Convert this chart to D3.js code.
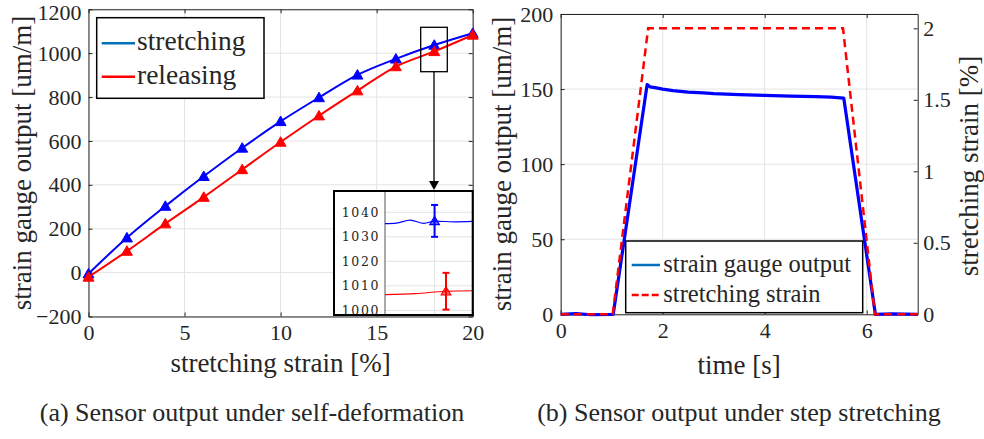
<!DOCTYPE html>
<html><head><meta charset="utf-8">
<script src="https://cdn.jsdelivr.net/npm/d3@7"></script>
<style>
body{margin:0;background:#fff}
svg{display:block}
text{font-family:"Liberation Serif","Times New Roman",serif;fill:#262626}
</style>
</head><body>
<svg id="c" width="984" height="439"></svg>
<script>
// ---------- data: (a) self-deformation ----------
const strainPct   = [0, 2, 4, 6, 8, 10, 12, 14, 16, 18, 20];
const stretching  = [-5, 159, 303, 439, 568, 689, 798, 901, 974, 1037, 1091];
const releasing   = [-20, 98, 223, 344, 470, 595, 715, 829, 939, 1008, 1083];
const leftXTicks  = [0, 5, 10, 15, 20];
const leftYTicks  = [-200, 0, 200, 400, 600, 800, 1000, 1200];
// inset (zoom around 18 %)
const insetX          = [16.7, 17.0, 17.36, 17.72, 18.0, 18.5, 19.0];
const insetStretch    = [1035.4, 1035.6, 1036.8, 1035.5, 1036.4, 1036.1, 1036.3];
const insetXRel       = [16.7, 17.5, 18.3, 19.0];
const insetRelease    = [1006.4, 1006.8, 1007.8, 1008.0];
const insetYTicks     = [1000, 1010, 1020, 1030, 1040];
// error bars: [x, mean, low, high]
const errStretch = [18.0, 1036.5, 1030.0, 1043.0];
const errRelease = [18.3, 1007.8, 1000.3, 1015.3];

// ---------- data: (b) step stretching ----------
const timeGauge  = [0, 0.3, 0.6, 1.03, 1.695, 1.75, 1.85, 2.0, 2.2, 2.5, 2.8, 3.0, 3.5, 4.0, 4.5, 5.0, 5.3, 5.55, 6.17, 6.5, 7.0];
const gaugeOut   = [0, 0.4, -0.3, 0, 153, 151.5, 151, 150, 149, 148, 147.5, 147, 146.3, 145.8, 145.3, 145, 144.6, 144, 0, 0.3, 0];
const timeStrain = [0, 1.02, 1.715, 5.535, 6.16, 7.0];
const strainStep = [0, 0, 2, 2, 0, 0];
const rightXTicks  = [0, 2, 4, 6];
const rightYTicks  = [0, 50, 100, 150, 200];
const rightY2Ticks = [0, 0.5, 1, 1.5, 2];

const svg = d3.select("#c");
const AX = "#262626", GRID = "#e3e3e3";
const TICKFS = 22, LABELFS = 27;

function styleAxis(g){
  g.attr("font-family", null);
  g.select(".domain").attr("stroke", AX).attr("stroke-width", 1);
  g.selectAll(".tick line").attr("stroke", AX);
  g.selectAll(".tick text").attr("fill", AX).style("font-size", TICKFS + "px")
    .style("font-family", '"Liberation Serif","Times New Roman",serif');
}

// ================= LEFT CHART =================
const xL = d3.scaleLinear().domain([0, 20]).range([88.5, 472.7]);
const yL = d3.scaleLinear().domain([-200, 1200]).range([316.5, 9.3]);
const L = svg.append("g");

// grid
L.append("g").selectAll("line").data(leftXTicks).join("line")
  .attr("x1", d => xL(d)).attr("x2", d => xL(d)).attr("y1", yL(-200)).attr("y2", yL(1200))
  .attr("stroke", GRID);
L.append("g").selectAll("line").data(leftYTicks).join("line")
  .attr("y1", d => yL(d)).attr("y2", d => yL(d)).attr("x1", xL(0)).attr("x2", xL(20))
  .attr("stroke", GRID);

// box axes
L.append("g").attr("transform", `translate(0,${yL(-200)})`)
  .call(d3.axisBottom(xL).tickValues(leftXTicks).tickSize(-4).tickSizeOuter(0).tickPadding(8).tickFormat(d3.format("d")))
  .call(styleAxis);
L.append("g").attr("transform", `translate(0,${yL(1200)})`)
  .call(d3.axisTop(xL).tickValues(leftXTicks).tickSize(-4).tickSizeOuter(0).tickFormat(""))
  .call(styleAxis);
L.append("g").attr("transform", `translate(${xL(0)},0)`)
  .call(d3.axisLeft(yL).tickValues(leftYTicks).tickSize(-4).tickSizeOuter(0).tickPadding(7).tickFormat(d3.format("d")))
  .call(styleAxis)
  .call(g => g.selectAll(".tick text").attr("dy", d => d === 1200 ? "0.46em" : "0.32em"));
L.append("g").attr("transform", `translate(${xL(20)},0)`)
  .call(d3.axisRight(yL).tickValues(leftYTicks).tickSize(-4).tickSizeOuter(0).tickFormat(""))
  .call(styleAxis);

const lineL = d3.line().x(d => xL(d[0])).y(d => yL(d[1])).curve(d3.curveMonotoneX);
const tri = d3.symbol().type(d3.symbolTriangle).size(52);
function drawSeries(vals, color){
  const pts = strainPct.map((x, i) => [x, vals[i]]);
  L.append("path").datum(pts).attr("d", lineL).attr("fill", "none")
    .attr("stroke", color).attr("stroke-width", 2);
  L.append("g").selectAll("path").data(pts).join("path")
    .attr("d", tri).attr("transform", d => `translate(${xL(d[0])},${yL(d[1]) + 1})`)
    .attr("fill", color).attr("stroke", color).attr("stroke-width", 1);
}
drawSeries(stretching, "#0000ff");
drawSeries(releasing, "#ff0000");

// left axis labels
L.append("text").attr("x", xL(10)).attr("y", 372).attr("text-anchor", "middle")
  .style("font-size", LABELFS + "px").attr("fill", "#000").text("stretching strain [%]");
L.append("text").attr("transform", `translate(31,163) rotate(-90)`).attr("text-anchor", "middle")
  .style("font-size", LABELFS + "px").attr("fill", "#000").text("strain gauge output [um/m]");

// left legend
const lg = L.append("g");
lg.append("rect").attr("x", 96.7).attr("y", 17.7).attr("width", 167.3).attr("height", 80.6)
  .attr("fill", "#fff").attr("stroke", "#000").attr("stroke-width", 1.5);
[["stretching", "#0072bd", 43.3], ["releasing", "#ff0000", 76.7]].forEach(([t, c, y]) => {
  lg.append("line").attr("x1", 101.7).attr("x2", 135).attr("y1", y).attr("y2", y)
    .attr("stroke", c).attr("stroke-width", 2.5);
  lg.append("text").attr("x", 137).attr("y", y + 7).style("font-size", "27.5px")
    .attr("fill", "#000").text(t);
});

// zoom rectangle + arrow
L.append("rect").attr("x", 420.7).attr("y", 27.3).attr("width", 26.6).attr("height", 44.4)
  .attr("fill", "none").attr("stroke", "#000").attr("stroke-width", 1.3);
L.append("line").attr("x1", 434).attr("x2", 434).attr("y1", 71.7).attr("y2", 182)
  .attr("stroke", "#000").attr("stroke-width", 1.3);
L.append("path").attr("d", "M429,181L439,181L434,190Z").attr("fill", "#000");

// inset
const xI = d3.scaleLinear().domain([16.7, 19]).range([385, 472.7]);
const yI = d3.scaleLinear().domain([998.1, 1048.7]).range([315, 191]);
const I = L.append("g");
I.append("rect").attr("x", 334).attr("y", 191).attr("width", 138.7).attr("height", 124)
  .attr("fill", "#fff");
I.append("g").selectAll("line").data(insetYTicks).join("line")
  .attr("x1", 385).attr("x2", 472.7).attr("y1", d => yI(d)).attr("y2", d => yI(d)).attr("stroke", GRID);
I.append("line").attr("x1", xI(18)).attr("x2", xI(18)).attr("y1", 191).attr("y2", 315).attr("stroke", GRID);
I.append("line").attr("x1", 385).attr("x2", 385).attr("y1", 191).attr("y2", 315).attr("stroke", "#555").attr("stroke-width", 1);
I.append("g").selectAll("text").data(insetYTicks).join("text")
  .attr("x", 380).attr("y", d => yI(d) + 4.5).attr("text-anchor", "end")
  .style("font-family", '"DejaVu Serif",serif').style("font-size", "12.5px").style("letter-spacing", "1.6px")
  .attr("fill", "#333").text(d => d);
const lineI = d3.line().x(d => xI(d[0])).y(d => yI(d[1])).curve(d3.curveMonotoneX);
I.append("path").datum(insetX.map((x, i) => [x, insetStretch[i]])).attr("d", lineI)
  .attr("fill", "none").attr("stroke", "#0000ff").attr("stroke-width", 1.2);
I.append("path").datum(insetXRel.map((x, i) => [x, insetRelease[i]])).attr("d", lineI)
  .attr("fill", "none").attr("stroke", "#ff0000").attr("stroke-width", 1.2);
const triS = d3.symbol().type(d3.symbolTriangle).size(40);
[[errStretch, "#0000ff"], [errRelease, "#ff0000"]].forEach(([e, c]) => {
  const [x, m, lo, hi] = e;
  const g = I.append("g").attr("stroke", c).attr("stroke-width", 2);
  g.append("line").attr("x1", xI(x)).attr("x2", xI(x)).attr("y1", yI(lo)).attr("y2", yI(hi));
  g.append("line").attr("x1", xI(x) - 3.5).attr("x2", xI(x) + 3.5).attr("y1", yI(lo)).attr("y2", yI(lo));
  g.append("line").attr("x1", xI(x) - 3.5).attr("x2", xI(x) + 3.5).attr("y1", yI(hi)).attr("y2", yI(hi));
  I.append("path").attr("d", triS).attr("transform", `translate(${xI(x)},${yI(m) + 1})`)
    .attr("fill", c).attr("fill-opacity", 0.6).attr("stroke", c).attr("stroke-width", 1.2);
});
I.append("rect").attr("x", 334).attr("y", 191).attr("width", 138.7).attr("height", 124)
  .attr("fill", "none").attr("stroke", "#000").attr("stroke-width", 2);

// ================= RIGHT CHART =================
const xR  = d3.scaleLinear().domain([0, 7]).range([560.7, 917.7]);
const yR  = d3.scaleLinear().domain([0, 200]).range([314.3, 14]);
const yR2 = d3.scaleLinear().domain([0, 2.1]).range([314.3, 14]);
const R = svg.append("g");

R.append("g").selectAll("line").data(rightXTicks).join("line")
  .attr("x1", d => xR(d)).attr("x2", d => xR(d)).attr("y1", yR(0)).attr("y2", yR(200)).attr("stroke", GRID);
R.append("g").selectAll("line").data(rightYTicks).join("line")
  .attr("y1", d => yR(d)).attr("y2", d => yR(d)).attr("x1", xR(0)).attr("x2", xR(7)).attr("stroke", GRID);

R.append("g").attr("transform", `translate(0,${yR(0)})`)
  .call(d3.axisBottom(xR).tickValues(rightXTicks).tickSize(-4).tickSizeOuter(0).tickPadding(8).tickFormat(d3.format("d")))
  .call(styleAxis);
R.append("g").attr("transform", `translate(0,${yR(200)})`)
  .call(d3.axisTop(xR).tickValues(rightXTicks).tickSize(-4).tickSizeOuter(0).tickFormat(""))
  .call(styleAxis);
R.append("g").attr("transform", `translate(${xR(0)},0)`)
  .call(d3.axisLeft(yR).tickValues(rightYTicks).tickSize(-4).tickSizeOuter(0).tickPadding(7.5).tickFormat(d3.format("d")))
  .call(styleAxis);
R.append("g").attr("transform", `translate(${xR(7)},0)`)
  .call(d3.axisRight(yR2).tickValues(rightY2Ticks).tickSize(-4).tickSizeOuter(0).tickPadding(5.5).tickFormat(d => d))
  .call(styleAxis);

const lineG = d3.line().x(d => xR(d[0])).y(d => yR(d[1]));
const lineS = d3.line().x(d => xR(d[0])).y(d => yR2(d[1]));
R.append("path").datum(timeGauge.map((t, i) => [t, gaugeOut[i]])).attr("d", lineG)
  .attr("fill", "none").attr("stroke", "#0000ff").attr("stroke-width", 3.2).attr("stroke-linejoin", "round");
R.append("path").datum(timeStrain.map((t, i) => [t, strainStep[i]])).attr("d", lineS)
  .attr("fill", "none").attr("stroke", "#ff0000").attr("stroke-width", 2.5).attr("stroke-dasharray", "8,5");

R.append("text").attr("x", (xR(0) + xR(7)) / 2).attr("y", 374).attr("text-anchor", "middle")
  .style("font-size", LABELFS + "px").attr("fill", "#000").text("time [s]");
R.append("text").attr("transform", `translate(511,164) rotate(-90)`).attr("text-anchor", "middle")
  .style("font-size", LABELFS + "px").attr("fill", "#000").text("strain gauge output [um/m]");
R.append("text").attr("transform", `translate(978,166) rotate(-90)`).attr("text-anchor", "middle")
  .style("font-size", LABELFS + "px").attr("fill", "#000").text("stretching strain [%]");

// right legend
const rg = R.append("g");
rg.append("rect").attr("x", 625.7).attr("y", 241).attr("width", 237).attr("height", 71.7)
  .attr("fill", "#fff").attr("stroke", "#000").attr("stroke-width", 1.5);
rg.append("line").attr("x1", 631.7).attr("x2", 660).attr("y1", 265).attr("y2", 265)
  .attr("stroke", "#0072bd").attr("stroke-width", 2.5);
rg.append("line").attr("x1", 631.7).attr("x2", 660).attr("y1", 295).attr("y2", 295)
  .attr("stroke", "#ff0000").attr("stroke-width", 2.5).attr("stroke-dasharray", "7,3");
rg.append("text").attr("x", 663.3).attr("y", 271.5).style("font-size", "24.5px").attr("fill", "#000").text("strain gauge output");
rg.append("text").attr("x", 663.3).attr("y", 301.5).style("font-size", "24.5px").attr("fill", "#000").text("stretching strain");

// captions
svg.append("text").attr("x", 252).attr("y", 421).attr("text-anchor", "middle")
  .style("font-size", "26px").attr("fill", "#000").text("(a) Sensor output under self-deformation");
svg.append("text").attr("x", 739).attr("y", 421).attr("text-anchor", "middle")
  .style("font-size", "26px").attr("fill", "#000").text("(b) Sensor output under step stretching");
</script>
</body></html>
